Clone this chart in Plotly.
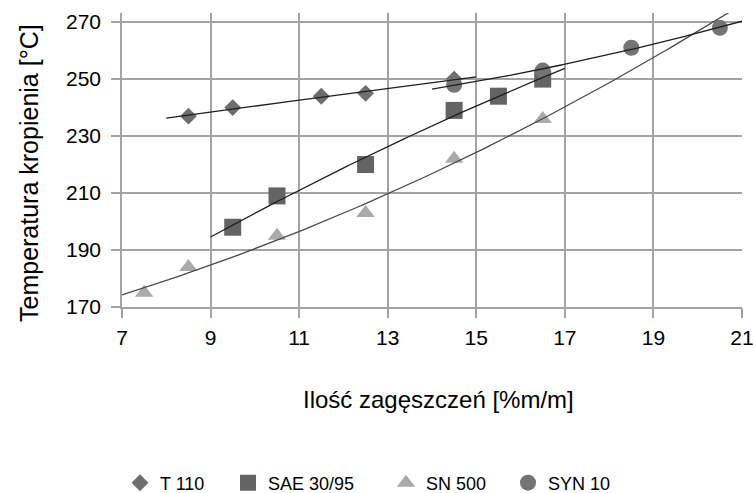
import numpy as np
import plotly.graph_objects as go

# ---- data ----
t110_x = [8.5, 9.5, 11.5, 12.5, 14.5]
t110_y = [237, 240, 244, 245, 250]

sae_x = [9.5, 10.5, 12.5, 14.5, 15.5, 16.5]
sae_y = [198, 209, 220, 239, 244, 250]

sn_x = [7.5, 8.5, 10.5, 12.5, 14.5, 16.5]
sn_y = [175, 184, 195, 203, 222, 236]

syn_x = [14.5, 16.5, 18.5, 20.5]
syn_y = [248, 253, 261, 268]

x_ticks = [7, 9, 11, 13, 15, 17, 19, 21]
y_ticks = [170, 190, 210, 230, 250, 270]

series = [
    dict(name="T 110", x=t110_x, y=t110_y, symbol="diamond", size=13, color="#6e6e6e",
         back=0.5, fwd=0.5, line="#1e1e1e", legend="legend", lx=120),
    dict(name="SAE 30/95", x=sae_x, y=sae_y, symbol="square", size=17, color="#646464",
         back=0.5, fwd=0.5, line="#1e1e1e", legend="legend2", lx=228),
    dict(name="SN 500", x=sn_x, y=sn_y, symbol="triangle-up", size=16, color="#aaaaaa",
         back=0.5, fwd=5.0, line="#4a4a4a", legend="legend3", lx=386),
    dict(name="SYN 10", x=syn_x, y=syn_y, symbol="circle", size=16, color="#747474",
         back=0.5, fwd=0.5, line="#1e1e1e", legend="legend4", lx=508),
]

fig = go.Figure()

for s in series:
    fig.add_trace(go.Scatter(
        x=s["x"], y=s["y"], mode="markers", name=s["name"], legend=s["legend"],
        marker=dict(symbol=s["symbol"], size=s["size"], color=s["color"], line=dict(width=0)),
        cliponaxis=False,
    ))

for s in series:
    coef = np.polyfit(s["x"], s["y"], 2)
    xs = np.linspace(min(s["x"]) - s["back"], max(s["x"]) + s["fwd"], 200)
    ys = np.polyval(coef, xs)
    fig.add_trace(go.Scatter(
        x=xs, y=ys, mode="lines", showlegend=False, hoverinfo="skip",
        line=dict(color=s["line"], width=1.3),
    ))

grid = "#a3a3a3"
font_family = "Arial, Liberation Sans, sans-serif"

fig.update_layout(
    width=753, height=493,
    margin=dict(l=122, r=11, t=13, b=186, autoexpand=False),
    paper_bgcolor="white", plot_bgcolor="white",
    font=dict(family=font_family, color="#000000"),
    xaxis=dict(range=[7, 21], tickvals=x_ticks, ticktext=[str(v) for v in x_ticks],
               showgrid=True, gridcolor=grid, gridwidth=1.5,
               ticks="outside", ticklen=9, tickcolor=grid, tickwidth=1.5,
               showline=True, linecolor=grid, linewidth=1.5,
               zeroline=False, tickfont=dict(size=21, color="#000"),
               ticklabeloverflow="allow", automargin=False, ticklabelstandoff=2),
    yaxis=dict(range=[170, 273.2], tickvals=y_ticks, ticktext=[str(v) for v in y_ticks],
               showgrid=True, gridcolor=grid, gridwidth=1.5,
               ticks="outside", ticklen=9, tickcolor=grid, tickwidth=1.5,
               showline=True, linecolor=grid, linewidth=1.5,
               zeroline=False, tickfont=dict(size=21, color="#000"),
               automargin=False, ticklabelstandoff=6),
    annotations=[
        dict(text="Temperatura kropienia [°C]", xref="paper", yref="paper",
             x=(29 - 122) / 620, y=(307 - 173) / 294, xanchor="center", yanchor="middle",
             textangle=-90, showarrow=False, font=dict(size=25, color="#000")),
        dict(text="Ilość zagęszczeń [%m/m]", xref="paper", yref="paper",
             x=(439 - 122) / 620, y=(307 - 399) / 294, xanchor="center", yanchor="middle",
             showarrow=False, font=dict(size=24, color="#000")),
    ],
)

for s in series:
    fig.update_layout({s["legend"]: dict(
        x=s["lx"] / 753, y=1 - 483 / 493, xref="container", yref="container",
        xanchor="left", yanchor="middle", orientation="h",
        bgcolor="rgba(0,0,0,0)", borderwidth=0,
        font=dict(size=18, color="#000", family=font_family),
    )})

fig.write_html("out.html")
